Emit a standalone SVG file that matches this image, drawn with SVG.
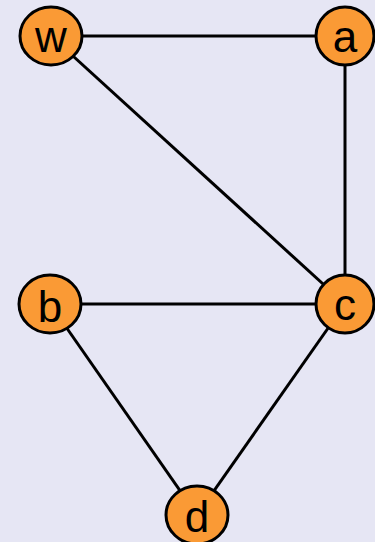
<svg xmlns="http://www.w3.org/2000/svg" width="375" height="542" viewBox="0 0 375 542">
<style>
.n{fill:#FA9A35;stroke:#000;stroke-width:3}
.t{font-family:"Liberation Sans",Arial,sans-serif;font-size:44px;fill:#000;text-anchor:middle}
.e{stroke:#000;stroke-width:3;fill:none}
</style>
<rect width="375" height="542" fill="#E6E6F4"/>
<g id="edges">
<line class="e" x1="51" y1="36" x2="345" y2="36"/>
<line class="e" x1="51" y1="36" x2="345" y2="304"/>
<line class="e" x1="345" y1="36" x2="345" y2="304"/>
<line class="e" x1="50" y1="304" x2="345" y2="304"/>
<line class="e" x1="50" y1="304" x2="197" y2="515"/>
<line class="e" x1="345" y1="304" x2="197" y2="515"/>
</g>
<g id="w"><ellipse class="n" cx="51" cy="36" rx="31" ry="29"/><text class="t" x="51" y="52">w</text></g>
<g id="a"><ellipse class="n" cx="345" cy="36" rx="29" ry="29"/><text class="t" x="345" y="52">a</text></g>
<g id="b"><ellipse class="n" cx="50" cy="304" rx="31" ry="29"/><text class="t" x="50" y="322">b</text></g>
<g id="c"><ellipse class="n" cx="345" cy="304" rx="29" ry="29"/><text class="t" x="345" y="320">c</text></g>
<g id="d"><ellipse class="n" cx="197" cy="515" rx="31" ry="29"/><text class="t" x="197" y="532">d</text></g>
</svg>
